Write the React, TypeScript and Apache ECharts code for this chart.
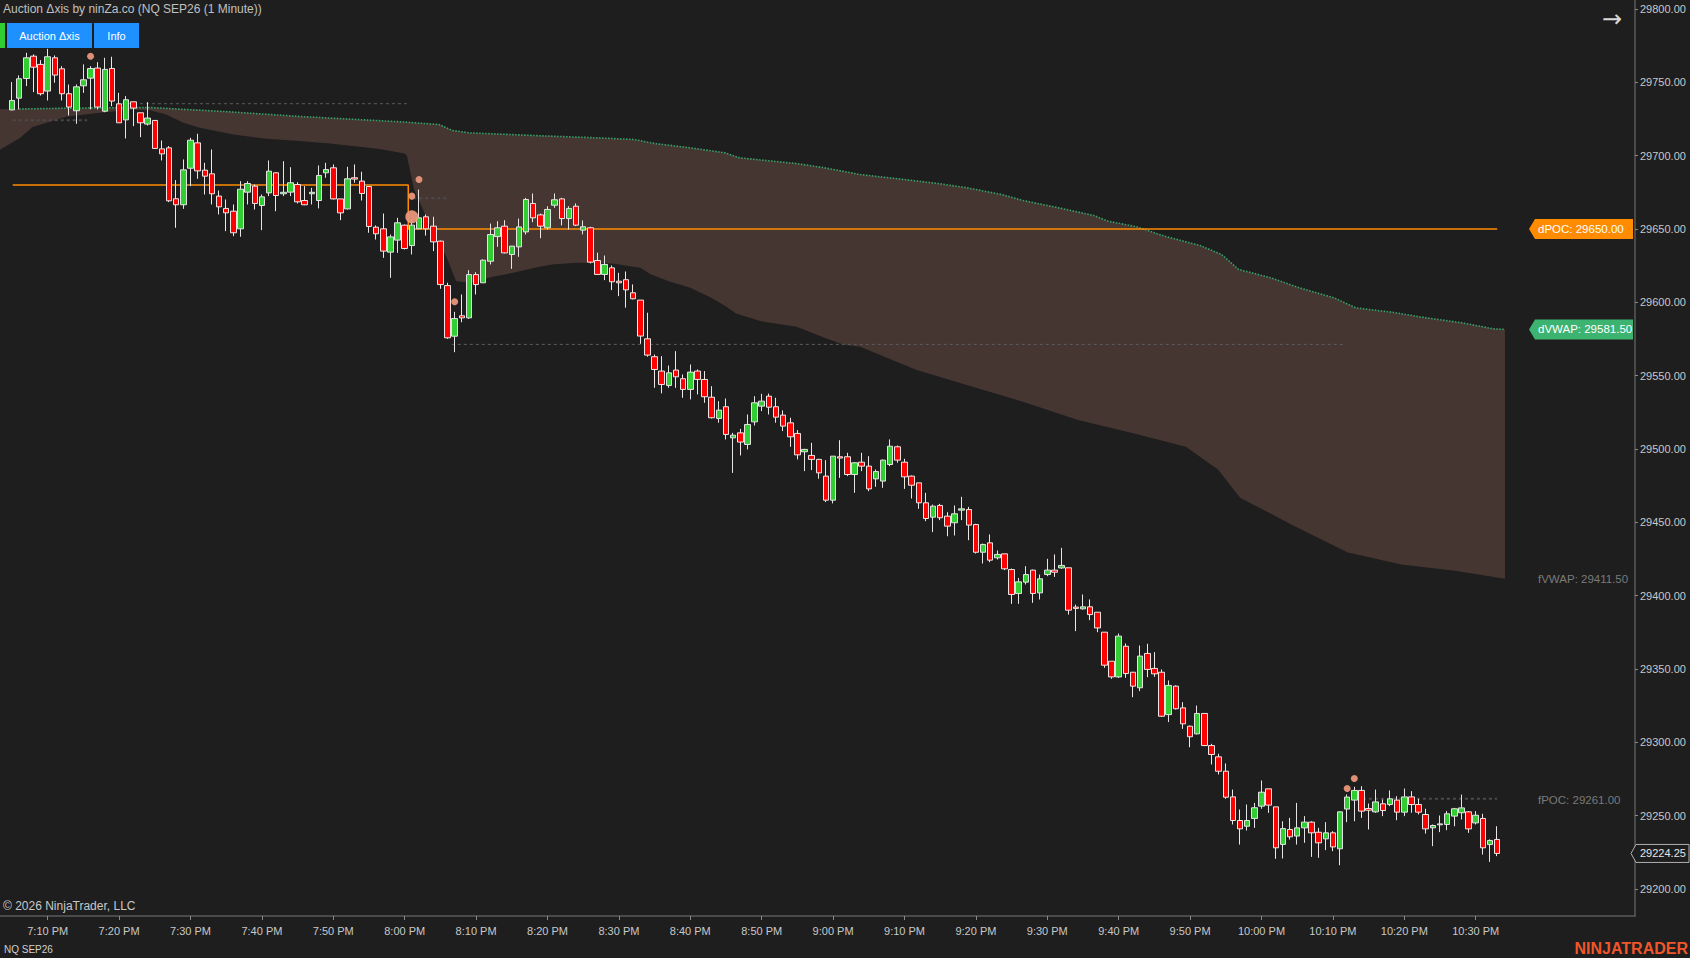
import React, { useEffect, useRef } from "react";
import * as echarts from "echarts";

// ---- data (bar index 0 = 7:05 PM, one bar per minute) ----
// each row: [open, high, low, close]
const OHLC: number[][] = [
  [29731.2, 29750.1, 29730.8, 29737.6], [29739.2, 29754.7, 29731.5, 29752.4], [29752.6, 29770.1, 29747.4, 29766.7],
  [29767.8, 29769.0, 29743.3, 29760.3], [29762.2, 29765.1, 29741.0, 29742.2], [29744.0, 29772.8, 29737.6, 29767.4],
  [29766.7, 29768.3, 29749.7, 29754.9], [29759.2, 29761.0, 29737.6, 29742.2], [29742.2, 29748.5, 29727.4, 29733.1],
  [29730.6, 29748.5, 29721.7, 29746.9], [29747.6, 29762.2, 29742.8, 29751.7], [29752.8, 29761.0, 29731.5, 29759.4],
  [29759.7, 29763.7, 29731.5, 29733.1], [29730.3, 29766.7, 29729.6, 29758.8], [29759.4, 29767.4, 29733.7, 29737.2],
  [29735.3, 29742.8, 29722.4, 29722.4], [29724.4, 29740.6, 29711.7, 29738.1], [29736.7, 29736.7, 29720.1, 29732.4],
  [29729.2, 29729.2, 29712.6, 29722.4], [29721.5, 29736.5, 29720.5, 29725.6], [29724.0, 29724.0, 29704.6, 29704.9],
  [29704.6, 29710.3, 29696.7, 29701.2], [29705.3, 29706.5, 29668.3, 29669.2], [29670.6, 29683.3, 29650.8, 29666.5],
  [29666.5, 29697.4, 29663.7, 29690.3], [29691.4, 29712.1, 29679.2, 29710.5], [29708.7, 29714.9, 29684.2, 29689.6],
  [29690.1, 29695.1, 29673.5, 29686.0], [29687.6, 29704.2, 29666.7, 29674.0], [29672.4, 29676.2, 29659.9, 29665.1],
  [29664.0, 29670.1, 29648.5, 29661.0], [29662.1, 29666.7, 29645.1, 29647.4], [29650.1, 29682.6, 29644.7, 29677.1],
  [29675.1, 29682.6, 29666.7, 29681.0], [29679.2, 29680.3, 29663.3, 29667.4], [29666.0, 29673.5, 29649.2, 29671.9],
  [29674.6, 29696.7, 29672.4, 29689.4], [29688.3, 29688.7, 29662.1, 29672.8], [29674.0, 29696.2, 29672.4, 29675.0],
  [29675.1, 29692.1, 29672.4, 29681.5], [29680.3, 29681.9, 29667.4, 29668.5], [29669.4, 29679.2, 29666.2, 29666.5],
  [29674.0, 29678.0, 29666.7, 29675.0], [29669.4, 29693.3, 29664.0, 29686.5], [29688.3, 29695.1, 29684.9, 29690.5],
  [29691.7, 29694.0, 29670.1, 29670.5], [29670.5, 29670.5, 29656.0, 29661.0], [29663.7, 29692.4, 29663.3, 29684.2],
  [29684.9, 29694.0, 29681.5, 29684.0], [29682.6, 29689.0, 29669.4, 29674.2], [29679.0, 29679.0, 29647.4, 29651.7],
  [29651.2, 29652.4, 29642.8, 29646.7], [29650.1, 29660.5, 29630.3, 29634.9], [29634.2, 29646.2, 29616.7, 29644.6],
  [29642.4, 29657.6, 29633.7, 29654.2], [29652.6, 29653.0, 29636.0, 29636.7], [29638.7, 29656.4, 29632.6, 29652.6],
  [29650.1, 29676.9, 29650.1, 29657.6], [29658.3, 29659.9, 29645.5, 29650.1], [29651.9, 29658.3, 29634.9, 29641.2],
  [29641.7, 29642.1, 29609.2, 29612.1], [29611.4, 29613.3, 29575.1, 29575.8], [29576.9, 29593.5, 29566.0, 29588.9],
  [29590.8, 29605.3, 29586.4, 29589.4], [29589.4, 29621.9, 29588.7, 29618.9], [29618.9, 29620.5, 29605.3, 29612.1],
  [29613.3, 29629.2, 29613.3, 29628.7], [29628.0, 29653.7, 29625.8, 29646.2], [29644.8, 29655.3, 29637.8, 29650.8],
  [29651.9, 29656.0, 29633.3, 29633.7], [29632.6, 29638.3, 29622.8, 29638.3], [29637.8, 29657.1, 29631.0, 29651.4],
  [29648.0, 29671.2, 29646.2, 29670.1], [29667.4, 29674.2, 29654.6, 29657.6], [29659.6, 29660.5, 29643.7, 29651.9],
  [29650.8, 29665.5, 29649.6, 29663.3], [29666.2, 29674.2, 29664.4, 29669.9], [29670.5, 29671.2, 29652.4, 29657.1],
  [29657.1, 29665.5, 29649.6, 29664.0], [29665.5, 29667.4, 29651.9, 29652.6], [29649.2, 29655.8, 29646.3, 29651.5],
  [29650.8, 29651.5, 29626.5, 29627.4], [29628.5, 29633.8, 29619.0, 29619.0], [29619.0, 29631.9, 29615.1, 29625.8],
  [29623.5, 29625.1, 29608.3, 29614.0], [29614.4, 29620.1, 29604.2, 29613.3], [29615.4, 29621.0, 29596.3, 29608.5],
  [29606.5, 29612.2, 29602.0, 29602.4], [29601.5, 29601.5, 29571.7, 29577.0], [29575.1, 29592.9, 29562.9, 29564.0],
  [29562.9, 29564.4, 29541.7, 29554.2], [29553.1, 29563.3, 29537.9, 29544.0], [29543.3, 29556.9, 29541.7, 29551.9],
  [29553.8, 29566.7, 29541.7, 29549.2], [29547.9, 29550.8, 29534.9, 29540.6], [29540.6, 29557.6, 29533.8, 29552.4],
  [29553.1, 29554.2, 29537.2, 29547.4], [29547.4, 29553.1, 29531.5, 29535.6], [29535.3, 29542.8, 29520.8, 29521.3],
  [29520.8, 29532.6, 29517.9, 29526.5], [29528.8, 29534.4, 29506.5, 29509.9], [29507.6, 29511.0, 29483.7, 29509.4],
  [29511.0, 29513.7, 29495.6, 29504.7], [29503.1, 29523.5, 29499.7, 29516.7], [29518.5, 29536.0, 29516.0, 29531.5],
  [29529.2, 29537.6, 29525.8, 29532.6], [29536.0, 29537.8, 29523.5, 29528.5], [29528.8, 29534.9, 29517.9, 29521.7],
  [29523.1, 29526.3, 29512.2, 29515.6], [29517.8, 29521.3, 29501.5, 29508.3], [29510.6, 29512.9, 29492.9, 29496.0],
  [29498.1, 29500.1, 29484.9, 29499.7], [29495.6, 29504.2, 29485.6, 29492.9], [29492.9, 29493.3, 29479.7, 29483.7],
  [29481.5, 29492.4, 29463.8, 29465.1], [29465.1, 29495.1, 29462.9, 29495.1], [29494.7, 29506.0, 29480.3, 29493.8],
  [29494.7, 29497.4, 29481.5, 29482.6], [29482.6, 29491.0, 29470.1, 29490.6], [29491.0, 29497.4, 29484.9, 29488.3],
  [29488.3, 29495.1, 29471.2, 29472.8], [29479.6, 29486.0, 29474.2, 29484.6], [29478.1, 29492.8, 29473.5, 29492.4],
  [29489.4, 29506.5, 29488.3, 29501.9], [29501.5, 29502.4, 29490.6, 29492.4], [29491.0, 29493.3, 29472.8, 29481.0],
  [29481.5, 29481.9, 29466.2, 29475.3], [29476.9, 29476.9, 29459.2, 29463.3], [29463.3, 29470.1, 29450.8, 29452.6],
  [29453.5, 29462.1, 29443.3, 29461.0], [29461.5, 29462.6, 29451.5, 29453.1], [29454.2, 29456.9, 29440.5, 29447.4],
  [29449.7, 29461.5, 29441.0, 29455.8], [29458.3, 29467.4, 29451.5, 29459.2], [29458.7, 29460.5, 29437.8, 29448.1],
  [29448.5, 29449.0, 29428.7, 29429.6], [29429.6, 29435.5, 29421.9, 29434.9], [29436.0, 29441.7, 29422.8, 29424.2],
  [29425.8, 29430.8, 29424.6, 29428.1], [29428.5, 29428.5, 29417.4, 29418.3], [29417.8, 29418.5, 29394.4, 29400.8],
  [29401.5, 29412.1, 29394.4, 29409.4], [29409.2, 29420.1, 29407.6, 29414.4], [29417.4, 29417.8, 29395.1, 29401.5],
  [29401.9, 29414.4, 29397.4, 29411.5], [29414.4, 29425.1, 29413.3, 29417.4], [29417.4, 29428.1, 29412.8, 29416.0],
  [29418.9, 29432.6, 29418.3, 29420.6], [29419.0, 29419.0, 29387.1, 29390.1], [29392.2, 29393.9, 29375.8, 29391.3],
  [29391.0, 29400.8, 29390.5, 29392.4], [29392.4, 29397.4, 29383.3, 29387.1], [29388.7, 29388.7, 29375.1, 29378.0],
  [29375.1, 29375.1, 29350.8, 29352.6], [29355.3, 29355.3, 29343.3, 29344.6], [29344.6, 29374.2, 29343.9, 29372.4],
  [29365.5, 29367.4, 29344.0, 29346.9], [29347.8, 29347.8, 29330.8, 29338.3], [29337.2, 29366.0, 29334.9, 29358.8],
  [29360.6, 29367.2, 29344.4, 29349.7], [29350.4, 29361.5, 29344.7, 29346.7], [29347.8, 29349.7, 29317.4, 29317.8],
  [29318.9, 29342.2, 29313.8, 29338.8], [29338.3, 29338.8, 29322.4, 29322.9], [29323.5, 29327.4, 29309.2, 29312.6],
  [29311.0, 29311.5, 29296.7, 29303.8], [29305.8, 29325.1, 29305.3, 29319.7], [29319.7, 29319.7, 29297.4, 29297.8],
  [29297.8, 29299.0, 29284.9, 29291.7], [29290.1, 29292.2, 29278.1, 29280.3], [29280.3, 29285.6, 29261.5, 29262.6],
  [29262.8, 29267.8, 29244.0, 29246.7], [29246.7, 29254.2, 29230.3, 29241.0], [29242.8, 29257.6, 29239.9, 29246.7],
  [29248.1, 29258.7, 29241.7, 29255.4], [29256.5, 29274.0, 29254.7, 29266.0], [29268.3, 29268.3, 29251.9, 29257.2],
  [29256.0, 29256.0, 29220.6, 29228.1], [29230.4, 29246.2, 29220.8, 29241.2], [29240.6, 29248.5, 29233.7, 29235.6],
  [29236.1, 29258.7, 29230.3, 29241.7], [29241.7, 29249.7, 29231.5, 29245.6], [29245.6, 29246.2, 29221.9, 29238.3],
  [29238.7, 29241.7, 29221.3, 29231.5], [29234.2, 29245.6, 29226.5, 29238.3], [29238.3, 29239.4, 29225.8, 29228.7],
  [29227.4, 29253.1, 29216.2, 29252.6], [29254.5, 29264.5, 29245.6, 29262.7], [29260.6, 29269.7, 29246.2, 29267.2],
  [29267.2, 29270.1, 29248.5, 29253.1], [29254.9, 29258.3, 29240.6, 29253.7], [29252.6, 29267.8, 29251.9, 29259.4],
  [29258.1, 29261.0, 29249.7, 29253.5], [29257.6, 29267.2, 29256.5, 29261.5], [29260.6, 29263.3, 29246.9, 29252.4],
  [29252.4, 29268.5, 29249.7, 29262.8], [29262.8, 29266.7, 29252.0, 29257.6], [29257.6, 29261.5, 29250.8, 29252.4],
  [29250.8, 29254.7, 29237.8, 29241.0], [29241.7, 29244.0, 29229.2, 29243.3], [29243.8, 29250.1, 29238.8, 29244.4],
  [29244.0, 29253.1, 29240.1, 29251.3], [29249.7, 29255.3, 29242.8, 29254.7], [29252.0, 29264.4, 29247.4, 29255.3],
  [29252.6, 29253.1, 29238.3, 29241.0], [29245.1, 29253.1, 29244.0, 29250.3], [29248.1, 29251.3, 29223.5, 29228.1],
  [29230.3, 29233.8, 29218.5, 29233.1], [29233.8, 29242.8, 29222.4, 29224.25],
];

// value-area band: upper edge (dVWAP dotted line) and lower edge, sampled at bar indices
const BAND_UP_X = [-2, 1, 10, 19.3, 30, 40.3, 54.3, 59.8, 61.7, 64.2, 74.2, 82.1, 87.1, 90, 95, 99.9, 101.9, 109.9, 113.8, 118.8, 125.7, 129.7, 133.7, 138.6, 141.6, 146.6, 151.5, 153.5, 157.5, 161.4, 166.4, 169.4, 171.8, 176.3, 180.3, 185.2, 188.2, 193.2, 198.1, 203.1, 207.5, 209.1];
const BAND_UP_Y = [29731.5, 29731.8, 29732.5, 29732.8, 29730, 29726.7, 29723.1, 29721.2, 29717.1, 29715.5, 29713.5, 29712.1, 29711, 29708.3, 29705.3, 29701.9, 29698.5, 29694.6, 29691.7, 29687.1, 29683.3, 29681, 29678.1, 29673.5, 29669.4, 29664.4, 29659.2, 29655.3, 29651.5, 29645.1, 29638.7, 29632.6, 29622.4, 29616.7, 29609.9, 29603.0, 29596.2, 29593.3, 29589.4, 29586.0, 29581.9, 29581.5];
const BAND_LO_X = [-2, 1.1, 2.9, 7.6, 12.3, 17, 19.3, 21.6, 24, 26.3, 31, 35.6, 40.3, 44.5, 51.5, 55.0, 55.3, 56.3, 58.8, 60.8, 62.2, 64.2, 67.2, 70.2, 73.2, 75.6, 79.1, 84.1, 88.0, 89.5, 92.0, 95.0, 98.0, 99.9, 101.4, 104.9, 109.9, 113.8, 116.4, 118.8, 126.6, 134.2, 141.7, 149.3, 156.9, 164.4, 168.9, 172.0, 179.5, 187.1, 194.6, 202.1, 209.1];
const BAND_LO_Y = [29703, 29712.1, 29719.6, 29726.5, 29729.2, 29731.5, 29731, 29728.1, 29722.4, 29719, 29714.4, 29711.5, 29709.9, 29708.3, 29704.6, 29701.5, 29700, 29677, 29649.6, 29631.5, 29614.4, 29613.3, 29617.3, 29620.1, 29623.5, 29625.8, 29626.9, 29626.4, 29623.5, 29619, 29614.4, 29609.9, 29603, 29597.4, 29592.4, 29587.1, 29583.3, 29575.8, 29571.3, 29569.7, 29554, 29543, 29532, 29519.7, 29510.9, 29501.5, 29486, 29466.8, 29447.7, 29429.4, 29421.3, 29416.9, 29411.5];

// POC lines
const POC_PATH_X = [0.1, 55.5, 55.5, 208];
const POC_PATH_Y = [29680, 29680, 29650, 29650];

// dashed reference lines: [xStart, xEnd, price, style]
const DASH_LINES: [number, number, number, string][] = [
  [15.4, 55.3, 29735.4, "thin"],
  [0.1, 10.5, 29724.2, "thick"],
  [56.2, 61.3, 29671.0, "thick"],
  [61.6, 186.6, 29571.3, "thin"],
  [189.2, 208, 29261.5, "thick"],
];

// salmon markers: [bar index, price, size]
const DOTS: [number, number, number][] = [
  [11, 29767.8, 7],
  [57, 29683.7, 7],
  [56, 29672.4, 7],
  [56, 29658.3, 13],
  [62, 29600.4, 7],
  [187, 29268.5, 7],
  [188, 29275.3, 7],
];

const Y_TICKS = [29200, 29250, 29300, 29350, 29400, 29450, 29500, 29550, 29600, 29650, 29700, 29750, 29800];
const X_TICKS = [5, 15, 25, 35, 45, 55, 65, 75, 85, 95, 105, 115, 125, 135, 145, 155, 165, 175, 185, 195, 205];

const DPOC = 29650.0;
const DVWAP = 29581.5;
const FVWAP = 29411.5;
const FPOC = 29261.0;
const LAST = 29224.25;

const FONT = "'Liberation Sans', Arial, sans-serif";
const BG = "#1e1e1e";

function fmtTime(idx: number): string {
  const t = 19 * 60 + 5 + Math.round(idx);
  const h24 = Math.floor(t / 60);
  const m = t % 60;
  const h = h24 % 12 || 12;
  return `${h}:${String(m).padStart(2, "0")} PM`;
}

export default function App() {
  const ref = useRef<HTMLDivElement>(null);

  useEffect(() => {
    if (!ref.current) return;
    const chart = echarts.init(ref.current, undefined, { renderer: "svg" });

    const candleData = OHLC.map(([o, h, l, c], i) => [i, o, c, l, h]);
    const upper = BAND_UP_X.map((x, i) => [x, BAND_UP_Y[i]]);
    const lower = BAND_LO_X.map((x, i) => [x, BAND_LO_Y[i]]);
    const dvwapLine = upper.filter((p) => p[0] >= 1);
    const pocPath = POC_PATH_X.map((x, i) => [x, POC_PATH_Y[i]]);

    const dashSeries = DASH_LINES.map(([x0, x1, y, kind]) => ({
      type: "line",
      data: [[x0, y], [x1, y]],
      symbol: "none",
      silent: true,
      z: 3,
      lineStyle:
        kind === "thick"
          ? { color: "#4a4a4a", width: 2, type: [3, 3] }
          : { color: "#5c5c5c", width: 1, type: [3, 3] },
    }));

    chart.setOption({
      animation: false,
      backgroundColor: BG,
      grid: { left: 0, right: 55, top: 0, bottom: 42, containLabel: false },
      xAxis: {
        type: "value",
        min: -1.68,
        max: 227.31,
        splitLine: { show: false },
        axisLine: { show: true, onZero: false, lineStyle: { color: "#5a5a5a", width: 1.5 } },
        axisTick: { show: true, customValues: X_TICKS, length: 4, lineStyle: { color: "#8a8a8a" } },
        axisLabel: {
          customValues: X_TICKS,
          formatter: (v: number) => fmtTime(v),
          color: "#c8c8c8",
          fontSize: 11,
          fontFamily: FONT,
          margin: 9,
        },
      },
      yAxis: {
        type: "value",
        position: "right",
        min: 29181.6,
        max: 29806.1,
        scale: true,
        splitLine: { show: false },
        axisLine: { show: true, onZero: false, lineStyle: { color: "#5a5a5a", width: 1.5 } },
        axisTick: { show: true, customValues: Y_TICKS, length: 3, lineStyle: { color: "#8a8a8a" } },
        axisLabel: {
          customValues: Y_TICKS,
          formatter: (v: number) => v.toFixed(2),
          color: "#c8c8c8",
          fontSize: 11,
          fontFamily: FONT,
          margin: 5,
        },
      },
      series: [
        {
          type: "custom",
          silent: true,
          z: 1,
          clip: true,
          data: [[100, 29500]],
          encode: { x: 0, y: 1 },
          renderItem: (_p: any, api: any) => {
            const pts: number[][] = [];
            upper.forEach((p) => pts.push(api.coord(p)));
            lower.slice().reverse().forEach((p) => pts.push(api.coord(p)));
            return { type: "polygon", shape: { points: pts }, style: { fill: "#463631" } };
          },
        },
        ...dashSeries,
        {
          type: "line",
          data: dvwapLine,
          symbol: "none",
          silent: true,
          z: 4,
          lineStyle: { color: "#34a46a", width: 1.6, type: [1.5, 1.5] },
        },
        {
          type: "line",
          data: pocPath,
          symbol: "none",
          silent: true,
          z: 5,
          lineStyle: { color: "#ff8c00", width: 1.5 },
        },
        {
          type: "candlestick",
          data: candleData,
          encode: { x: 0, y: [1, 2, 3, 4] },
          barWidth: 6,
          z: 6,
          silent: true,
          itemStyle: {
            color: "#32cd32",
            color0: "#ff0000",
            borderColor: "#e4e4e4",
            borderColor0: "#f0e6e6",
            borderWidth: 1,
          },
        },
        {
          type: "scatter",
          data: DOTS.map(([x, y, s]) => ({ value: [x, y], symbolSize: s })),
          z: 7,
          silent: true,
          itemStyle: { color: "#e9967a", opacity: 0.95 },
        },
      ],
    });

    const py = (v: number) => chart.convertToPixel({ yAxisIndex: 0 } as any, v) as number;
    const tag = (y: number, color: string, text: string) => [
      {
        type: "polygon",
        shape: { points: [[1529, y], [1535, y - 10], [1633, y - 10], [1633, y + 10], [1535, y + 10]] },
        style: { fill: color },
        z: 100,
      },
      {
        type: "text",
        x: 1538,
        y,
        style: { text, fill: "#ffffff", font: `11.5px ${FONT}`, verticalAlign: "middle" },
        z: 101,
      },
    ];
    const yL = py(LAST);

    chart.setOption({
      graphic: [
        { type: "text", x: 3, y: 9, style: { text: "Auction Δxis by ninZa.co (NQ SEP26 (1 Minute))", fill: "#c0c0c0", font: `12px ${FONT}`, verticalAlign: "middle" } },
        { type: "rect", shape: { x: 0, y: 23, width: 5, height: 25 }, style: { fill: "#32cd32" } },
        { type: "rect", shape: { x: 7, y: 23, width: 85, height: 25 }, style: { fill: "#1e90ff" } },
        { type: "text", x: 49.5, y: 35.5, style: { text: "Auction Δxis", fill: "#ffffff", font: `11px ${FONT}`, align: "center", verticalAlign: "middle" } },
        { type: "rect", shape: { x: 94, y: 23, width: 45, height: 25 }, style: { fill: "#1e90ff" } },
        { type: "text", x: 116.5, y: 35.5, style: { text: "Info", fill: "#ffffff", font: `11px ${FONT}`, align: "center", verticalAlign: "middle" } },
        { type: "text", x: 1612, y: 19, style: { text: "→", fill: "#d8d8d8", font: `24px 'DejaVu Sans', sans-serif`, align: "center", verticalAlign: "middle" } },
        ...tag(py(DPOC), "#ff8c00", `dPOC: ${DPOC.toFixed(2)}`),
        ...tag(py(DVWAP), "#3cb371", `dVWAP: ${DVWAP.toFixed(2)}`),
        { type: "text", x: 1538, y: py(FVWAP), style: { text: `fVWAP: ${FVWAP.toFixed(2)}`, fill: "#7a7a7a", font: `11.5px ${FONT}`, verticalAlign: "middle" } },
        { type: "text", x: 1538, y: py(FPOC), style: { text: `fPOC: ${FPOC.toFixed(2)}`, fill: "#7a7a7a", font: `11.5px ${FONT}`, verticalAlign: "middle" } },
        {
          type: "polygon",
          shape: { points: [[1631, yL], [1636, yL - 9], [1689, yL - 9], [1689, yL + 9], [1636, yL + 9]] },
          style: { fill: BG, stroke: "#b0b0b0", lineWidth: 1 },
          z: 100,
        },
        { type: "text", x: 1640, y: yL, style: { text: LAST.toFixed(2), fill: "#e6e6e6", font: `11px ${FONT}`, verticalAlign: "middle" }, z: 101 },
        { type: "text", x: 3, y: 906, style: { text: "© 2026 NinjaTrader, LLC", fill: "#c8c8c8", font: `12px ${FONT}`, verticalAlign: "middle" } },
        { type: "text", x: 4, y: 949, style: { text: "NQ SEP26", fill: "#d0d0d0", font: `10px ${FONT}`, verticalAlign: "middle" } },
        { type: "text", x: 1688, y: 948, style: { text: "NINJATRADER", fill: "#f0562a", font: `bold 16px ${FONT}`, align: "right", verticalAlign: "middle" } },
      ],
    });

    return () => chart.dispose();
  }, []);

  return (
    <div
      ref={ref}
      style={{ position: "fixed", left: 0, top: 0, width: 1690, height: 958, background: BG }}
    />
  );
}
